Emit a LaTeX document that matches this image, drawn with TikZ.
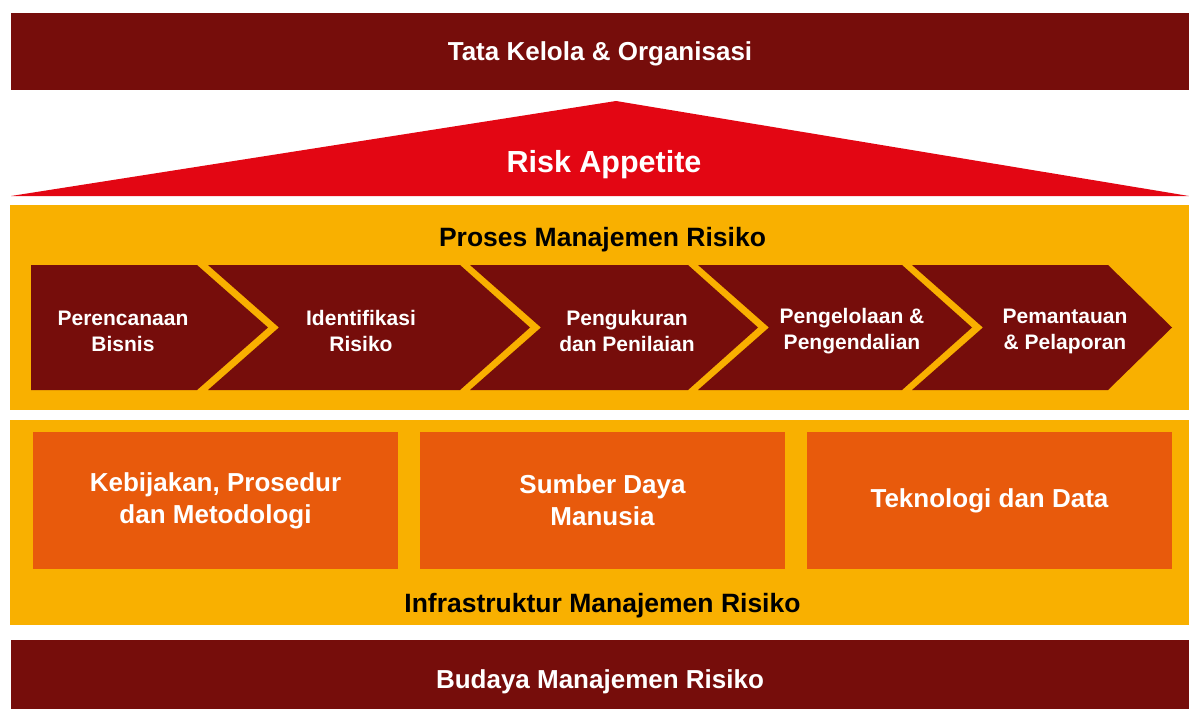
\documentclass[tikz,border=0pt]{standalone}
\usepackage{fontspec}
\setmainfont{Liberation Sans}
\usetikzlibrary{positioning}
\definecolor{cdark}{RGB}{118, 13, 11}
\definecolor{cred} {RGB}{227,  6, 19}
\definecolor{cyel} {RGB}{249,176,  0}
\definecolor{corg} {RGB}{232, 90, 12}
\tikzset{
  bar/.style     = {rectangle, fill=cdark, inner sep=0pt, text=white,
                    font=\fontsize{26}{32}\selectfont\bfseries,
                    text height=18.6pt, text depth=0pt,
                    minimum width=1178pt},
  panel/.style   = {rectangle, fill=cyel, inner sep=0pt,
                    minimum width=1179pt, minimum height=205pt},
  pillar/.style  = {rectangle, fill=corg, inner sep=0pt, text=white,
                    align=center, font=\fontsize{26}{32}\selectfont\bfseries,
                    minimum width=365pt, minimum height=137pt},
  chevtxt/.style = {text=white, align=center, inner sep=0pt,
                    font=\fontsize{21}{26}\selectfont\bfseries},
  headtxt/.style = {text=black, inner sep=0pt, anchor=base,
                    font=\fontsize{26.5}{32}\selectfont\bfseries}
}

\begin{document}
\begin{tikzpicture}[x=1pt, y=-1pt]
\useasboundingbox (0,0) rectangle (1189,709);

% ── Governance bar ─────────────────────────────────────────────────────────
\node[bar, minimum height=77pt] (gov) at (600,51.5) {Tata Kelola \& Organisasi};

% ── Risk appetite roof ─────────────────────────────────────────────────────
\fill[cred] (11,196) -- (616,101) -- (1189,196) -- cycle;
\node[text=white, inner sep=0pt, anchor=base,
      font=\fontsize{30.5}{36}\selectfont\bfseries] (risk) at (604,172) {Risk Appetite};

% ── Process panel ──────────────────────────────────────────────────────────
\node[panel] (proc) at (599.5,307.5) {};
\node[headtxt] (proct) at (602.5,246) {Proses Manajemen Risiko};

% chevrons: left / flat right / tip / notch
\foreach \l/\r/\t/\nt in {31/197/268/0, 208/460/530/71, 470/688/758/71,
                          698/902/972/71, 912/1108/1172/71}
  \fill[cdark] (\l,265) -- (\r,265) -- (\t,327.5) -- (\r,390)
               -- (\l,390) -- ({\l+\nt},327.5) -- cycle;

\foreach \n/\x/\txt in {plan/123/{Perencanaan\\Bisnis},
                        iden/361/{Identifikasi\\Risiko},
                        meas/627/{Pengukuran\\dan Penilaian},
                        ctrl/852/{Pengelolaan \&\\Pengendalian},
                        moni/1065/{Pemantauan\\\& Pelaporan}}
  \node[chevtxt] (\n) at (\x,331) {\txt};

% ── Infrastructure panel ───────────────────────────────────────────────────
\node[panel] (infra) at (599.5,522.5) {};
\foreach \n/\x/\txt in {pol/215.5/{Kebijakan, Prosedur\\dan Metodologi},
                        sdm/602.5/{Sumber Daya\\Manusia},
                        tek/989.5/{Teknologi dan Data}}
  \node[pillar] (\n) at (\x,500.5) {\txt};
\node[headtxt] (infrat) at (602.5,612) {Infrastruktur Manajemen Risiko};

% ── Culture bar ────────────────────────────────────────────────────────────
\node[bar, minimum height=78pt] (cult) at (600,679) {Budaya Manajemen Risiko};

\end{tikzpicture}
\end{document}
